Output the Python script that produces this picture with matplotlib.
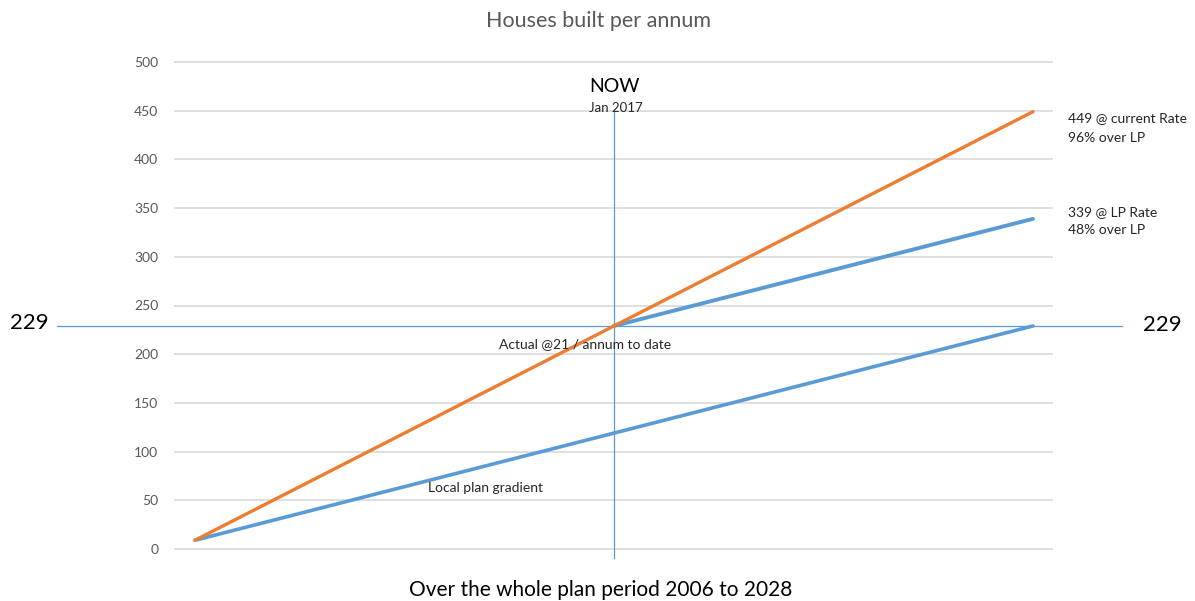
import matplotlib
matplotlib.use("Agg")
import matplotlib.pyplot as plt

plt.rcParams['font.family'] = ['Lato', 'DejaVu Sans']

# Data
years = list(range(2006, 2029))
current_rate = [9, 29, 49, 69, 89, 109, 129, 149, 169, 189, 209, 229,
                249, 269, 289, 309, 329, 349, 369, 389, 409, 429, 449]
local_plan = [9, 19, 29, 39, 49, 59, 69, 79, 89, 99, 109, 119,
              129, 139, 149, 159, 169, 179, 189, 199, 209, 219, 229]
lp_rate_years = list(range(2017, 2029))
lp_rate = [229, 239, 249, 259, 269, 279, 289, 299, 309, 319, 329, 339]
yticks = [0, 50, 100, 150, 200, 250, 300, 350, 400, 450, 500]
now_year = 2017
ref_value = 229

W, H = 1195, 601
fig = plt.figure(figsize=(W / 100, H / 100), dpi=100)
ax_left, ax_right, ax_top, ax_bottom = 175, 1052, 62, 549
ax = fig.add_axes([ax_left / W, 1 - ax_bottom / H, (ax_right - ax_left) / W, (ax_bottom - ax_top) / H])

px_per_year = (1033 - 195) / 22
ax.set_xlim(2006 - (195 - ax_left) / px_per_year, 2028 + (ax_right - 1033) / px_per_year)
ax.set_ylim(0, 500)
ax.set_yticks(yticks)
ax.set_xticks([])
ax.tick_params(axis='y', length=0, labelsize=10, labelcolor='#595959', pad=12)
ax.grid(axis='y', color='#D9D9D9', linewidth=1.2)
for gl in ax.get_ygridlines():
    gl.set_clip_on(False)
ax.set_axisbelow(True)
for s in ax.spines.values():
    s.set_visible(False)

blue = '#5B9BD5'
orange = '#ED7D31'
ax.plot(years, local_plan, color=blue, linewidth=2.6, solid_capstyle='round', zorder=3)
ax.plot(lp_rate_years, lp_rate, color=blue, linewidth=2.8, solid_capstyle='round', zorder=3)
ax.plot(years, current_rate, color=orange, linewidth=2.4, solid_capstyle='round', zorder=4)

# Reference lines (extend outside axes)
upp = 500 / (ax_bottom - ax_top)
ax.plot([now_year, now_year], [-9 * upp, (549 - 112) * upp], color=blue, linewidth=0.9,
        clip_on=False, zorder=2)
x_left = ax.get_xlim()[0] - (ax_left - 57) / px_per_year
x_right = ax.get_xlim()[1] + (1122 - ax_right) / px_per_year
ax.plot([x_left, x_right], [ref_value, ref_value], color=blue, linewidth=0.9, clip_on=False, zorder=2)

def fx(px):
    return px / W

def fy(py):
    return 1 - py / H

fig.text(fx(599), fy(21), 'Houses built per annum', ha='center', va='center', fontsize=15.5, color='#595959')
fig.text(fx(614), fy(86), 'NOW', ha='center', va='center', fontsize=14, color='black')
fig.text(fx(616), fy(108), 'Jan 2017', ha='center', va='center', fontsize=9.5, color='#262626')
fig.text(fx(1068), fy(118), '449 @ current Rate', ha='left', va='center', fontsize=10, color='#262626')
fig.text(fx(1068), fy(138), '96% over LP', ha='left', va='center', fontsize=10, color='#262626')
fig.text(fx(1068), fy(212), '339 @ LP Rate', ha='left', va='center', fontsize=10, color='#262626')
fig.text(fx(1068), fy(230), '48% over LP', ha='left', va='center', fontsize=10, color='#262626')
fig.text(fx(29), fy(323), '229', ha='center', va='center', fontsize=16, color='black')
fig.text(fx(1162), fy(325), '229', ha='center', va='center', fontsize=16, color='black')
fig.text(fx(585), fy(344), 'Actual @21 / annum to date', ha='center', va='center', fontsize=10, color='#262626')
fig.text(fx(485), fy(488), 'Local plan gradient', ha='center', va='center', fontsize=10, color='#262626')
fig.text(fx(601), fy(590), 'Over the whole plan period 2006 to 2028', ha='center', va='center', fontsize=15, color='black')

fig.savefig('out.png', dpi=100)
